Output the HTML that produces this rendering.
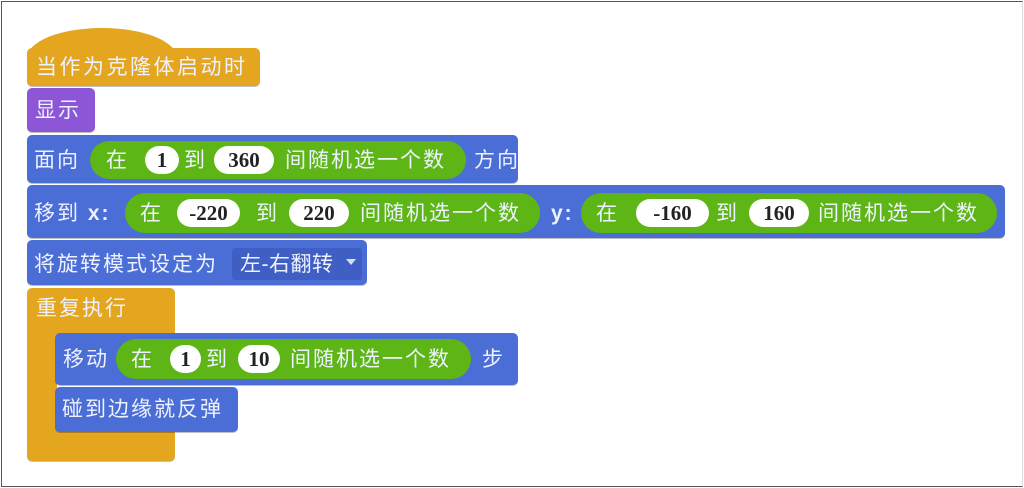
<!DOCTYPE html>
<html><head><meta charset="utf-8"><style>
body{margin:0;width:1024px;height:488px;background:#fff;position:relative;overflow:hidden;font-family:"Liberation Sans","Noto Sans CJK SC",sans-serif}
.frame{position:absolute;left:1px;top:1px;width:1020px;height:484px;border:1px solid #555;border-right-color:#ddd}
.b{position:absolute;border-radius:5px;box-shadow:0 1px 0 rgba(0,0,0,.25)}
.blue{background:#4b6dd6}
.or{background:#e4a51f}
.pu{background:#8c56d6}
.gr{position:absolute;background:#5db616;border-radius:20px}
.t{position:absolute;color:#eef2ff;font-size:21px;letter-spacing:2px;line-height:22px;white-space:nowrap;margin-top:1px}
.ov{position:absolute;background:#fff;border-radius:14px;color:#222;font-family:"Liberation Serif",serif;font-weight:bold;font-size:21px;text-align:center;line-height:28px;height:28px}
</style></head><body>
<div class="frame"></div>
<!-- hat -->
<div class="b or" style="left:27px;top:48px;width:233px;height:38px"></div>
<div class="or" style="position:absolute;left:27px;top:28px;width:150px;height:40px;border-radius:75px 75px 0 0/30px 30px 0 0"></div>
<div class="t" style="left:36px;top:56px;font-size:21px;letter-spacing:2.5px">当作为克隆体启动时</div>
<!-- show -->
<div class="b pu" style="left:27px;top:88px;width:68px;height:44px"></div>
<div class="t" style="left:35px;top:99px">显示</div>
<!-- face -->
<div class="b blue" style="left:27px;top:135px;width:491px;height:48px"></div>
<div class="t" style="left:34px;top:149px">面向</div>
<div class="gr" style="left:90px;top:141px;width:376px;height:38px"></div>
<div class="t" style="left:106px;top:149px">在</div>
<div class="ov" style="left:145px;top:146px;width:34px">1</div>
<div class="t" style="left:184px;top:149px">到</div>
<div class="ov" style="left:214px;top:146px;width:60px">360</div>
<div class="t" style="left:285px;top:149px">间随机选一个数</div>
<div class="t" style="left:474px;top:149px">方向</div>
<!-- goto -->
<div class="b blue" style="left:27px;top:185px;width:978px;height:53px"></div>
<div class="t" style="left:34px;top:202px">移到 <b>x:</b></div>
<div class="gr" style="left:125px;top:193px;width:415px;height:40px"></div>
<div class="t" style="left:140px;top:202px">在</div>
<div class="ov" style="left:177px;top:199px;width:63px">-220</div>
<div class="t" style="left:256px;top:202px">到</div>
<div class="ov" style="left:289px;top:199px;width:60px">220</div>
<div class="t" style="left:360px;top:202px">间随机选一个数</div>
<div class="t" style="left:551px;top:202px"><b>y:</b></div>
<div class="gr" style="left:581px;top:193px;width:416px;height:40px"></div>
<div class="t" style="left:596px;top:202px">在</div>
<div class="ov" style="left:636px;top:199px;width:73px">-160</div>
<div class="t" style="left:716px;top:202px">到</div>
<div class="ov" style="left:749px;top:199px;width:60px">160</div>
<div class="t" style="left:818px;top:202px">间随机选一个数</div>
<!-- rotation -->
<div class="b blue" style="left:27px;top:240px;width:340px;height:45px"></div>
<div class="t" style="left:34px;top:253px">将旋转模式设定为</div>
<div style="position:absolute;left:232px;top:248px;width:130px;height:32px;background:#3f5fc4;border-radius:3px"></div>
<div class="t" style="left:240px;top:253px;letter-spacing:0.5px">左-右翻转</div>
<div style="position:absolute;left:346px;top:259px;width:0;height:0;border-left:5px solid transparent;border-right:5px solid transparent;border-top:6px solid #dde"></div>
<!-- forever -->
<div class="b or" style="left:27px;top:288px;width:148px;height:48px"></div>
<div class="or" style="position:absolute;left:27px;top:320px;width:30px;height:120px"></div>
<div class="b or" style="left:27px;top:428px;width:148px;height:33px"></div>
<div class="t" style="left:36px;top:297px">重复执行</div>
<!-- move -->
<div class="b blue" style="left:55px;top:333px;width:463px;height:52px"></div>
<div class="t" style="left:63px;top:348px">移动</div>
<div class="gr" style="left:116px;top:339px;width:355px;height:40px"></div>
<div class="t" style="left:131px;top:348px">在</div>
<div class="ov" style="left:170px;top:345px;width:31px">1</div>
<div class="t" style="left:206px;top:348px">到</div>
<div class="ov" style="left:238px;top:345px;width:42px">10</div>
<div class="t" style="left:290px;top:348px">间随机选一个数</div>
<div class="t" style="left:482px;top:348px">步</div>
<!-- bounce -->
<div class="b blue" style="left:55px;top:387px;width:183px;height:45px"></div>
<div class="t" style="left:62px;top:398px">碰到边缘就反弹</div>
</body></html>
